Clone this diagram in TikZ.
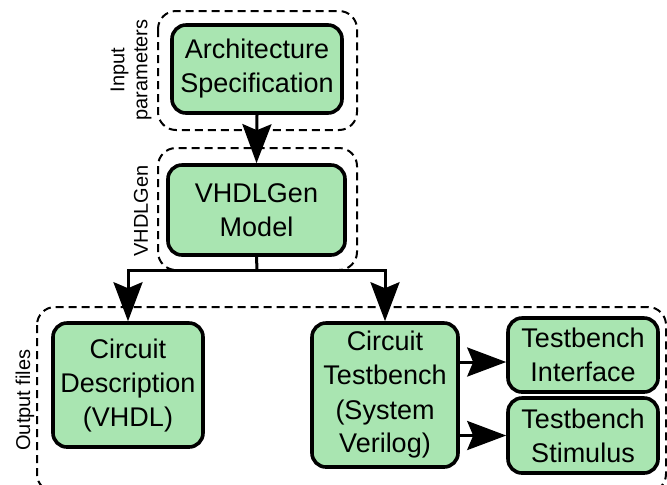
\documentclass[tikz,border=0pt]{standalone}
\usepackage{fontspec}
\setmainfont{Liberation Sans}
\usetikzlibrary{arrows.meta,positioning,calc}
\definecolor{BlockGreen}{HTML}{A9E5B1}

\begin{document}
\begin{tikzpicture}[x=0.5pt,y=-0.5pt,
  block/.style={draw,line width=1.8pt,rounded corners=7pt,fill=BlockGreen,
    align=center,inner sep=0pt,font=\fontsize{13.5}{17}\selectfont},
  group/.style={draw,line width=1pt,dash pattern=on 4pt off 2.5pt,rounded corners=9pt},
  side/.style={rotate=90,align=center,font=\fontsize{10}{11.5}\selectfont},
  flow/.style={line width=1.5pt,-{Stealth[length=19.5pt,width=14.5pt,inset=3pt]}}]
  \clip (0,0) rectangle (667,484);

  % dashed stage boxes
  \draw[group] (158,11) rectangle (357,130);
  \draw[group] (158,148) rectangle (357,270);
  \draw[group] (37,307) rectangle (666,492);

  \node[side] (lblin)  at (131,70)  {Input\\parameters};
  \node[side] (lblgen) at (141,211) {VHDLGen};
  \node[side] (lblout) at (25,400)  {Output files};

  % blocks
  \node[block,minimum width=85pt,minimum height=44pt]   (arch)  at (257,69)    {Architecture\\Specification};
  \node[block,minimum width=88.5pt,minimum height=45pt] (model) at (256.5,210) {VHDLGen\\Model};
  \node[block,minimum width=75pt,minimum height=62pt]   (desc)  at (128,385)   {Circuit\\Description\\(VHDL)};
  \node[block,minimum width=73pt,minimum height=72pt]   (tb)    at (385,395)   {Circuit\\Testbench\\(System\\Verilog)};
  \node[block,minimum width=75pt,minimum height=37pt]   (iface) at (583,355)   {Testbench\\Interface};
  \node[block,minimum width=75pt,minimum height=37.5pt] (stim)  at (583,435.5) {Testbench\\Stimulus};

  % connectors
  \draw[flow] (arch.south) -- (model.north);
  \coordinate (split) at (257,270);
  \draw[line width=1.5pt] (model.south) -- (split);
  \draw[flow] (split) -| (desc.north);
  \draw[flow] (split) -| (tb.north);
  \draw[flow] ([yshift=-3.5pt]iface.west -| tb.east) -- ([yshift=-3.5pt]iface.west);
  \draw[flow] (stim.west -| tb.east) -- (stim.west);
\end{tikzpicture}
\end{document}
